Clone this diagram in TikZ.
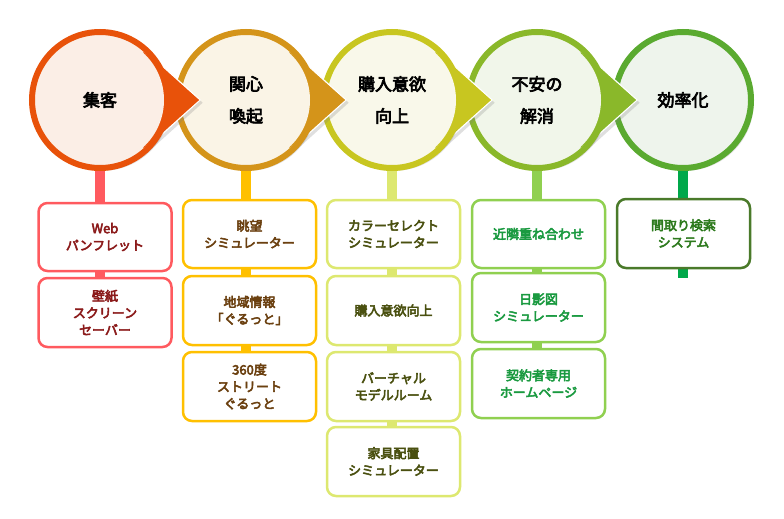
\documentclass[tikz,border=0pt]{standalone}
\usepackage{fontspec}
\setmainfont{Noto Sans CJK JP}
\newfontfamily\jpb[FakeBold=4]{Noto Sans CJK JP}
\usetikzlibrary{shadows,calc}
\definecolor{ringA}{HTML}{E8520A}\definecolor{fillA}{HTML}{FBEEE6}\definecolor{stemA}{HTML}{FF5A5F}\definecolor{txtA}{HTML}{8B1A1A}
\definecolor{ringB}{HTML}{D4941A}\definecolor{fillB}{HTML}{FAF4E6}\definecolor{stemB}{HTML}{FFC000}\definecolor{txtB}{HTML}{6B4010}
\definecolor{ringC}{HTML}{C8C620}\definecolor{fillC}{HTML}{F9F8EA}\definecolor{stemC}{HTML}{DDE870}\definecolor{txtC}{HTML}{4A5010}
\definecolor{ringD}{HTML}{8AB82A}\definecolor{fillD}{HTML}{F1F6EA}\definecolor{stemD}{HTML}{90D050}\definecolor{txtD}{HTML}{1A9A40}
\definecolor{ringE}{HTML}{5AAA30}\definecolor{fillE}{HTML}{EEF4EC}\definecolor{stemE}{HTML}{00A84A}\definecolor{txtE}{HTML}{2E7A1E}
\definecolor{boxE}{HTML}{4A7A2A}
\begin{document}
\begin{tikzpicture}[x=1pt,y=-1pt,
  circ/.style={circle,minimum size=136pt,inner sep=0pt,line width=6pt,align=center,font=\jpb\fontsize{17}{32}\selectfont,text=black},
  item/.style={rectangle,rounded corners=9pt,line width=2.5pt,fill=white,minimum width=133pt,align=center,font=\jpb\fontsize{13}{17}\selectfont},
  stem/.style={line width=10pt}]
\fill[white] (0,0) rectangle (784,519);
% stems
\draw[stem,stemA] (100,167) -- (100,347);
\draw[stem,stemB] (246,167) -- (246,421);
\draw[stem,stemC] (392,167) -- (392,496);
\draw[stem,stemD] (537,167) -- (537,418);
\draw[stem,stemE] (683,167) -- (683,278);
% circles right to left, each pointer over the next circle
\node[circ,draw=ringE,fill=fillE,drop shadow={opacity=0.25}] (c5) at (683,100) {効率化};
\foreach \cx/\nm/\rc/\fc/\tx in {537/c4/ringD/fillD/{不安の\\解消},392/c3/ringC/fillC/{購入意欲\\向上},246/c2/ringB/fillB/{関心\\喚起},100/c1/ringA/fillA/{集客}}{
  \fill[\rc,draw=white,line width=1.2pt,drop shadow={opacity=0.25}] ($(\cx,100)+(-48:67)$) -- (\cx+100,100) -- ($(\cx,100)+(48:67)$) -- cycle;
  \node[circ,draw=\rc,fill=\fc,drop shadow={opacity=0.25}] (\nm) at (\cx,100) {\tx};
  \fill[\rc] ($(\cx,100)+(-48:65)$) -- (\cx+99,100) -- ($(\cx,100)+(48:65)$) -- cycle;
  \fill[\fc] (\cx,100) circle (64);
  \node[circ,draw=none,fill=none] at (\cx,100) {\tx};
}
% boxes
\node[item,draw=stemA,text=txtA,minimum height=68pt] (a1) at (105,237) {Web\\パンフレット};
\node[item,draw=stemA,text=txtA,minimum height=69pt] (a2) at (105,312.5) {壁紙\\スクリーン\\セーバー};
\node[item,draw=stemB,text=txtB,minimum height=68pt] (b1) at (249.5,234) {眺望\\シミュレーター};
\node[item,draw=stemB,text=txtB,minimum height=69pt] (b2) at (249.5,310.5) {地域情報\\「ぐるっと」};
\node[item,draw=stemB,text=txtB,minimum height=69pt] (b3) at (249.5,386.5) {360度\\ストリート\\ぐるっと};
\node[item,draw=stemC,text=txtC,minimum height=68pt] (k1) at (393.5,234) {カラーセレクト\\シミュレーター};
\node[item,draw=stemC,text=txtC,minimum height=69pt] (k2) at (393.5,310.5) {購入意欲向上};
\node[item,draw=stemC,text=txtC,minimum height=69pt] (k3) at (393.5,386.5) {バーチャル\\モデルルーム};
\node[item,draw=stemC,text=txtC,minimum height=69pt] (k4) at (393.5,461.5) {家具配置\\シミュレーター};
\node[item,draw=stemD,text=txtD,minimum height=68pt] (d1) at (538.5,234) {近隣重ね合わせ};
\node[item,draw=stemD,text=txtD,minimum height=69pt] (d2) at (538.5,307.5) {日影図\\シミュレーター};
\node[item,draw=stemD,text=txtD,minimum height=69pt] (d3) at (538.5,383.5) {契約者専用\\ホームページ};
\node[item,draw=boxE,text=txtE,minimum height=69pt] (e1) at (683.5,233.5) {間取り検索\\システム};
\end{tikzpicture}
\end{document}
